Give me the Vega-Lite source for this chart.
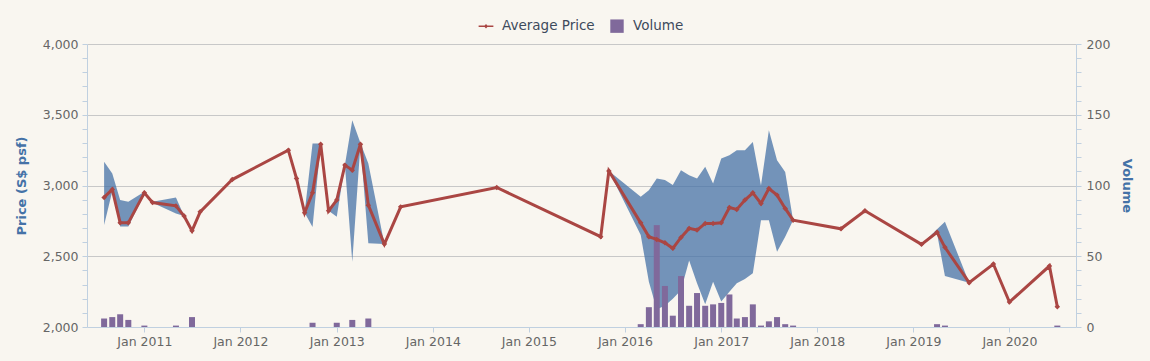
{
  "$schema": "https://vega.github.io/schema/vega-lite/v6.json",
  "width": 989,
  "height": 283,
  "autosize": {"type": "none"},
  "padding": {"left": 87, "top": 44, "right": 74, "bottom": 34},
  "background": "#f9f6f0",
  "config": {
    "view": {"stroke": null},
    "font": "DejaVu Sans",
    "axis": {
      "labelColor": "#666666",
      "labelFontSize": 12.5,
      "domainColor": "#C0D0E0",
      "tickColor": "#C0D0E0",
      "tickSize": 5,
      "gridColor": "#C8C8C8",
      "titleColor": "#4572A7",
      "titleFontSize": 13,
      "titleFontWeight": "bold"
    }
  },
  "data": {
    "values": [
      {"date": "2010-08-01T00:00", "avg": 2916, "min": 2720, "max": 3167, "vol": 6},
      {"date": "2010-09-01T00:00", "avg": 2972, "min": 2960, "max": 3085, "vol": 7},
      {"date": "2010-10-01T00:00", "avg": 2736, "min": 2710, "max": 2897, "vol": 9},
      {"date": "2010-11-01T00:00", "avg": 2736, "min": 2710, "max": 2885, "vol": 5},
      {"date": "2011-01-01T00:00", "avg": 2948, "min": 2940, "max": 2955, "vol": 1},
      {"date": "2011-02-01T00:00", "avg": 2880, "min": 2878, "max": 2885, "vol": null},
      {"date": "2011-05-01T00:00", "avg": 2856, "min": 2803, "max": 2916, "vol": 1},
      {"date": "2011-06-01T00:00", "avg": 2784, "min": 2784, "max": 2784, "vol": null},
      {"date": "2011-07-01T00:00", "avg": 2680, "min": 2680, "max": 2680, "vol": 7},
      {"date": "2011-08-01T00:00", "avg": 2814, "min": 2814, "max": 2814, "vol": null},
      {"date": "2011-12-01T00:00", "avg": 3042, "min": 3042, "max": 3042, "vol": null},
      {"date": "2012-07-01T00:00", "avg": 3250, "min": 3250, "max": 3250, "vol": null},
      {"date": "2012-08-01T00:00", "avg": 3050, "min": 3050, "max": 3050, "vol": null},
      {"date": "2012-09-01T00:00", "avg": 2807, "min": 2807, "max": 2807, "vol": null},
      {"date": "2012-10-01T00:00", "avg": 2948, "min": 2706, "max": 3297, "vol": 3},
      {"date": "2012-11-01T00:00", "avg": 3292, "min": 3290, "max": 3297, "vol": null},
      {"date": "2012-12-01T00:00", "avg": 2821, "min": 2821, "max": 2821, "vol": null},
      {"date": "2013-01-01T00:00", "avg": 2897, "min": 2779, "max": 2897, "vol": 3},
      {"date": "2013-02-01T00:00", "avg": 3144, "min": 3144, "max": 3144, "vol": null},
      {"date": "2013-03-01T00:00", "avg": 3108, "min": 2461, "max": 3462, "vol": 5},
      {"date": "2013-04-01T00:00", "avg": 3292, "min": 3290, "max": 3300, "vol": null},
      {"date": "2013-05-01T00:00", "avg": 2861, "min": 2591, "max": 3155, "vol": 6},
      {"date": "2013-07-01T00:00", "avg": 2586, "min": 2586, "max": 2586, "vol": null},
      {"date": "2013-09-01T00:00", "avg": 2849, "min": 2849, "max": 2849, "vol": null},
      {"date": "2014-09-01T00:00", "avg": 2986, "min": 2986, "max": 2986, "vol": null},
      {"date": "2015-10-01T00:00", "avg": 2638, "min": 2638, "max": 2638, "vol": null},
      {"date": "2015-11-01T00:00", "avg": 3103, "min": 3103, "max": 3103, "vol": null},
      {"date": "2016-03-01T00:00", "avg": 2736, "min": 2650, "max": 2920, "vol": 2},
      {"date": "2016-04-01T00:00", "avg": 2638, "min": 2320, "max": 2967, "vol": 14},
      {"date": "2016-05-01T00:00", "avg": 2619, "min": 2125, "max": 3050, "vol": 72},
      {"date": "2016-06-01T00:00", "avg": 2595, "min": 2150, "max": 3038, "vol": 29},
      {"date": "2016-07-01T00:00", "avg": 2556, "min": 2200, "max": 3003, "vol": 8},
      {"date": "2016-08-01T00:00", "avg": 2633, "min": 2260, "max": 3108, "vol": 36},
      {"date": "2016-09-01T00:00", "avg": 2697, "min": 2470, "max": 3073, "vol": 15},
      {"date": "2016-10-01T00:00", "avg": 2685, "min": 2310, "max": 3050, "vol": 24},
      {"date": "2016-11-01T00:00", "avg": 2732, "min": 2160, "max": 3132, "vol": 15},
      {"date": "2016-12-01T00:00", "avg": 2732, "min": 2320, "max": 3014, "vol": 16},
      {"date": "2017-01-01T00:00", "avg": 2736, "min": 2180, "max": 3191, "vol": 17},
      {"date": "2017-02-01T00:00", "avg": 2845, "min": 2250, "max": 3214, "vol": 23},
      {"date": "2017-03-01T00:00", "avg": 2831, "min": 2309, "max": 3250, "vol": 6},
      {"date": "2017-04-01T00:00", "avg": 2897, "min": 2340, "max": 3250, "vol": 7},
      {"date": "2017-05-01T00:00", "avg": 2948, "min": 2379, "max": 3308, "vol": 16},
      {"date": "2017-06-01T00:00", "avg": 2873, "min": 2755, "max": 3000, "vol": 1},
      {"date": "2017-07-01T00:00", "avg": 2979, "min": 2755, "max": 3391, "vol": 4},
      {"date": "2017-08-01T00:00", "avg": 2932, "min": 2532, "max": 3179, "vol": 7},
      {"date": "2017-09-01T00:00", "avg": 2838, "min": 2638, "max": 3096, "vol": 2},
      {"date": "2017-10-01T00:00", "avg": 2755, "min": 2755, "max": 2755, "vol": 1},
      {"date": "2018-04-01T00:00", "avg": 2694, "min": 2694, "max": 2694, "vol": null},
      {"date": "2018-07-01T00:00", "avg": 2821, "min": 2821, "max": 2821, "vol": null},
      {"date": "2019-02-01T00:00", "avg": 2584, "min": 2584, "max": 2584, "vol": null},
      {"date": "2019-04-01T00:00", "avg": 2669, "min": 2660, "max": 2690, "vol": 2},
      {"date": "2019-05-01T00:00", "avg": 2563, "min": 2360, "max": 2743, "vol": 1},
      {"date": "2019-08-01T00:00", "avg": 2313, "min": 2313, "max": 2313, "vol": null},
      {"date": "2019-11-01T00:00", "avg": 2445, "min": 2445, "max": 2445, "vol": null},
      {"date": "2020-01-01T00:00", "avg": 2176, "min": 2176, "max": 2176, "vol": null},
      {"date": "2020-06-01T00:00", "avg": 2431, "min": 2431, "max": 2431, "vol": null},
      {"date": "2020-07-01T00:00", "avg": 2143, "min": 2143, "max": 2143, "vol": 1}
    ]
  },
  "encoding": {
    "x": {
      "field": "date",
      "type": "temporal",
      "scale": {"domain": [{"year": 2010, "month": 6, "date": 16}, {"year": 2020, "month": 8, "date": 22}], "nice": false},
      "axis": {
        "title": null,
        "format": "%b %Y",
        "tickCount": {"interval": "year", "step": 1},
        "grid": false,
        "labelPadding": 3,
        "labelFlush": false
      }
    }
  },
  "layer": [
    {
      "mark": {"type": "area", "color": "#4572A7", "opacity": 0.75},
      "encoding": {
        "y": {
          "field": "max",
          "type": "quantitative",
          "scale": {"domain": [2000, 4000], "nice": false, "zero": false},
          "axis": {
            "title": "Price (S$ psf)",
            "values": [2000, 2100, 2200, 2300, 2400, 2500, 2600, 2700, 2800, 2900, 3000, 3100, 3200, 3300, 3400, 3500, 3600, 3700, 3800, 3900, 4000],
            "labelExpr": "datum.value % 500 === 0 ? format(datum.value, ',') : ''",
            "labelOverlap": false,
            "labelPadding": 4,
            "titlePadding": 14,
            "gridOpacity": {"condition": {"test": "datum.value % 500 === 0 && datum.value > 2000", "value": 1}, "value": 0}
          }
        },
        "y2": {"field": "min"}
      }
    },
    {
      "transform": [{"filter": "datum.vol != null"}],
      "mark": {"type": "bar", "size": 6},
      "encoding": {
        "y": {
          "field": "vol",
          "type": "quantitative",
          "scale": {"domain": [0, 200], "nice": false},
          "axis": {
            "orient": "right",
            "title": "Volume",
            "values": [0, 10, 20, 30, 40, 50, 60, 70, 80, 90, 100, 110, 120, 130, 140, 150, 160, 170, 180, 190, 200],
            "labelExpr": "datum.value % 50 === 0 ? format(datum.value, ',') : ''",
            "labelOverlap": false,
            "labelPadding": 5,
            "titlePadding": 10,
            "grid": false
          }
        },
        "color": {"datum": "Volume"}
      }
    },
    {
      "mark": {"type": "line", "strokeWidth": 3, "point": {"shape": "diamond", "size": 30, "filled": true}},
      "encoding": {
        "y": {
          "field": "avg",
          "type": "quantitative",
          "scale": {"domain": [2000, 4000], "nice": false, "zero": false},
          "axis": null
        },
        "color": {
          "datum": "Average Price",
          "scale": {"domain": ["Average Price", "Volume"], "range": ["#AA4643", "#80699B"]},
          "legend": {
            "title": null,
            "orient": "none",
            "direction": "horizontal",
            "legendX": 392,
            "legendY": -25,
            "labelFontSize": 13.5,
            "labelColor": "#3E4A5C",
            "labelOffset": 9,
            "columnPadding": 15,
            "symbolSize": 180,
            "symbolStrokeWidth": 0,
            "encode": {
              "symbols": {
                "update": {
                  "shape": {"signal": "datum.label === 'Volume' ? 'square' : 'M-1.1,-0.13L1.1,-0.13L1.1,0.13L-1.1,0.13Z M0,-0.35L0.3,0L0,0.35L-0.3,0Z'"},
                  "fill": {"signal": "datum.label === 'Volume' ? '#80699B' : '#AA4643'"},
                  "fillOpacity": {"value": 1},
                  "strokeWidth": {"value": 0}
                }
              }
            }
          }
        }
      }
    }
  ],
  "resolve": {"scale": {"y": "independent"}}
}
